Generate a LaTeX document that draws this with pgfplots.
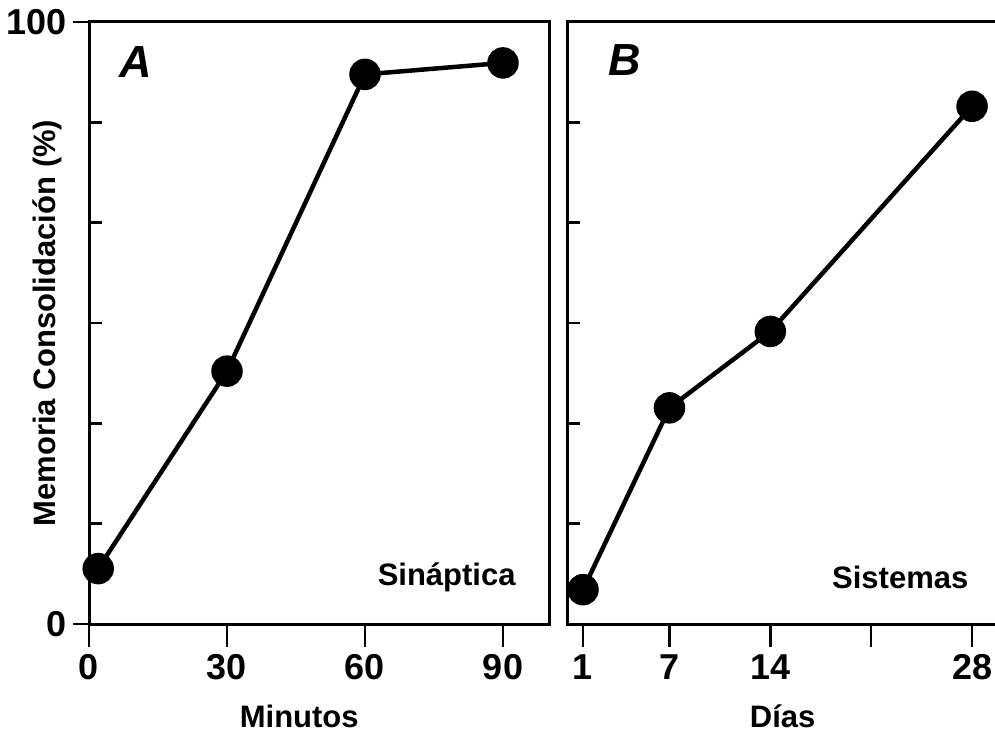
\documentclass[border=0pt]{standalone}
\usepackage{fontspec}
\setmainfont{Liberation Sans}
\usepackage{pgfplots}
\pgfplotsset{compat=1.18}
\begin{document}
\begin{tikzpicture}
\path[use as bounding box] (0pt,0pt) rectangle (995pt,734pt);
\pgfplotsset{
  panel/.style={
    scale only axis, anchor=south west, height=602pt,
    ymin=0, ymax=100,
    axis line style={line width=3pt},
    tick pos=left,
    ytick={0,16.6667,33.3333,50,66.6667,83.3333,100},
    yticklabels={},
    tick align=inside, major tick length=13pt,
    tick style={line width=2.6pt, black},
    xtick=\empty,
    extra x tick style={tick align=outside, major tick length=23pt, tick pos=left},
    ticklabel style={font=\fontsize{36}{40}\selectfont\bfseries},
    xlabel style={font=\fontsize{31}{36}\selectfont\bfseries},
    ylabel style={font=\fontsize{31}{36}\selectfont\bfseries},
    xticklabel style={yshift=-4pt},
    clip=false,
  },
  series/.style={black, line width=4.5pt, mark=*, mark size=13.5pt, mark options={fill=black, draw=none}},
}
\begin{axis}[panel, at={(89pt,110pt)}, width=460pt,
  xmin=0, xmax=100,
  extra x ticks={0,30,60,90}, extra x tick labels={0,30,60,90},
  extra y ticks={0,100}, extra y tick labels={0,100},
  extra y tick style={tick align=outside, major tick length=16pt, tick pos=left, yticklabel style={xshift=-3pt}},
  xlabel={Minutos},
  xlabel style={at={(axis description cs:0.457,0)}, anchor=center, yshift=-92pt},
  ylabel={Memoria Consolidación (\%)},
  ylabel style={at={(axis description cs:-0.091,0.5)}, anchor=center},
]
\addplot[series] coordinates {(2,9.2) (30,42) (60,91.3) (90,93.2)};
\node[font=\fontsize{45}{50}\selectfont\bfseries\itshape] at (axis description cs:0.102,0.934) {A};
\node[font=\fontsize{31}{36}\selectfont\bfseries, anchor=east] at (axis description cs:0.935,0.078) {Sináptica};
\end{axis}
\begin{axis}[panel, at={(567pt,110pt)}, width=433pt,
  xmin=-0.11, xmax=29.94,
  extra x ticks={1,7,14,21,28}, extra x tick labels={1,7,14,,28},
  xlabel={Días},
  xlabel style={at={(axis description cs:0.498,0)}, anchor=center, yshift=-92pt},
]
\addplot[series] coordinates {(1,5.7) (7,35.9) (14,48.6) (28,86)};
\node[font=\fontsize{45}{50}\selectfont\bfseries\itshape] at (axis description cs:0.134,0.937) {B};
\node[font=\fontsize{31}{36}\selectfont\bfseries, anchor=east] at (axis description cs:0.935,0.078) {Sistemas};
\end{axis}
\end{tikzpicture}
\end{document}
